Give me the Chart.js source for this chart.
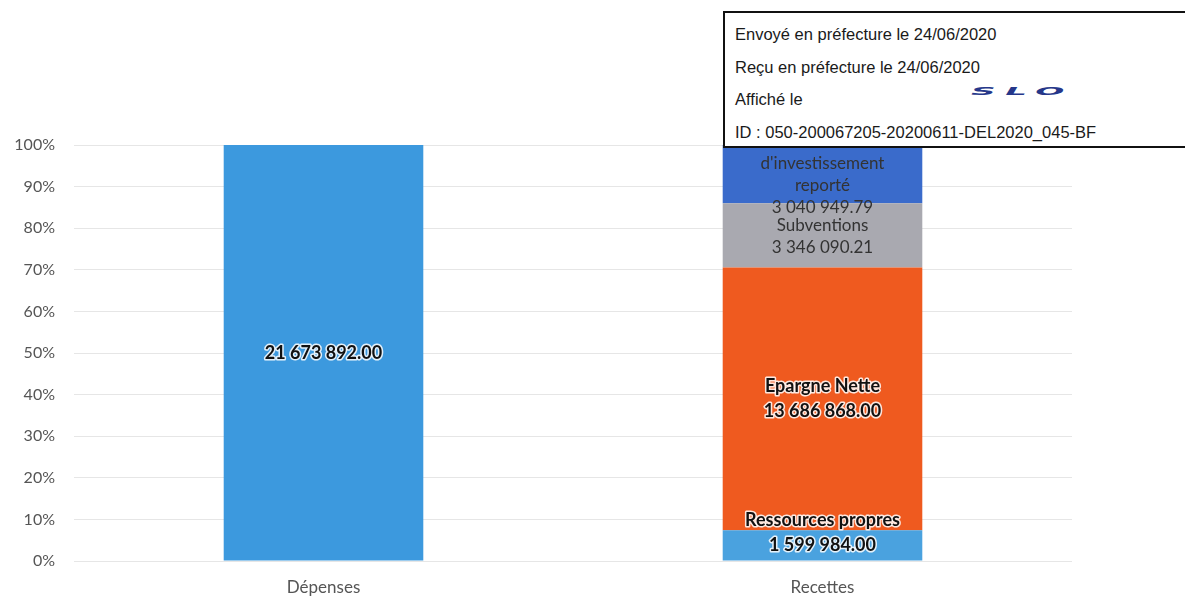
<!DOCTYPE html>
<html lang="fr">
<head>
<meta charset="utf-8">
<title>Dépenses / Recettes</title>
<script src="https://cdn.jsdelivr.net/npm/chart.js@4.4.1/dist/chart.umd.min.js"></script>
<style>
  body { margin: 0; background: #fff; }
  #wrap { position: relative; width: 1185px; height: 598px; overflow: hidden; }
  #stamp {
    position: absolute; left: 723px; top: 11px; width: 480px; height: 133px;
    border: 2px solid #111; background: #fff;
    font-family: "Liberation Sans", Arial, sans-serif; font-size: 16.5px; color: #1a1a1a;
  }
  #stamp .ln { position: absolute; left: 10px; white-space: nowrap; }
  #stamp .slo {
    position: absolute; left: 246px; top: 68px; display: inline-block; white-space: nowrap;
    font-family: "DejaVu Sans", sans-serif; font-weight: bold; font-style: italic;
    font-size: 18px; color: #26378a; letter-spacing: 5px;
    transform: scale(1.9, 0.55); transform-origin: left center;
  }
</style>
</head>
<body>
<div id="wrap">
  <canvas id="chart" width="1185" height="598"></canvas>
  <div id="stamp">
    <div class="ln" style="top:12px">Envoyé en préfecture le 24/06/2020</div>
    <div class="ln" style="top:45px">Reçu en préfecture le 24/06/2020</div>
    <div class="ln" style="top:77px">Affiché le</div>
    <span class="slo">SLO</span>
    <div class="ln" style="top:110px">ID : 050-200067205-20200611-DEL2020_045-BF</div>
  </div>
</div>
<script>
// chart data
const categories = ['Dépenses', 'Recettes'];
const depenses = [21673892.00, null];
const ressourcesPropres = [null, 1599984.00];
const epargneNette = [null, 13686868.00];
const subventions = [null, 3346090.21];
const resultatReporte = [null, 3040949.79];
const yTickStep = 10; // 0% .. 100%

// series in stacking order (bottom to top)
const series = [
  { name: 'Dépenses', values: depenses, color: '#3c99de', lines: [], bold: true },
  { name: 'Ressources propres', values: ressourcesPropres, color: '#4aa2df', lines: ['Ressources propres'], bold: true, shift: -13 },
  { name: 'Epargne Nette', values: epargneNette, color: '#ef5a1f', lines: ['Epargne Nette'], bold: true },
  { name: 'Subventions', values: subventions, color: '#a9a9b0', lines: ['Subventions'], bold: false, shift: 1 },
  { name: "Résultat d'investissement reporté", values: resultatReporte, color: '#3a6bcb', lines: ['Résultat', "d'investissement", 'reporté'], bold: false, shift: 0 }
];

// totals per category -> 100% stacked
const totals = categories.map((c, i) => series.reduce((s, d) => s + (d.values[i] || 0), 0));

function fmt(n) {
  const parts = n.toFixed(2).split('.');
  return parts[0].replace(/\B(?=(\d{3})+(?!\d))/g, ' ') + '.' + parts[1];
}

// draw labels in the middle of each segment
const segmentLabels = {
  id: 'segmentLabels',
  afterDatasetsDraw(chart) {
    const ctx = chart.ctx;
    chart.data.datasets.forEach((ds, di) => {
      const s = series[di];
      const meta = chart.getDatasetMeta(di);
      meta.data.forEach((bar, i) => {
        if (s.values[i] == null) return;
        const lines = s.lines.concat([fmt(s.values[i])]);
        const lh = s.bold ? 25 : 22;
        const cy = (bar.y + bar.base) / 2 + (s.shift || 0);
        ctx.save();
        ctx.font = s.bold ? 'bold 18px Lato, "Open Sans", sans-serif' : '17px Lato, "Open Sans", sans-serif';
        ctx.textAlign = 'center';
        ctx.textBaseline = 'middle';
        lines.forEach((t, k) => {
          const y = cy + (k - (lines.length - 1) / 2) * lh;
          if (s.bold) {
            ctx.lineWidth = 3;
            ctx.strokeStyle = 'rgba(255,255,255,0.85)';
            ctx.lineJoin = 'round';
            ctx.strokeText(t, bar.x, y);
            ctx.fillStyle = '#111';
          } else {
            ctx.fillStyle = '#333';
          }
          ctx.fillText(t, bar.x, y);
        });
        ctx.restore();
      });
    });
  }
};

new Chart(document.getElementById('chart'), {
  type: 'bar',
  data: {
    labels: categories,
    datasets: series.map(s => ({
      label: s.name,
      data: s.values.map((v, i) => v == null ? null : v / totals[i] * 100),
      backgroundColor: s.color,
      borderWidth: 0,
      barPercentage: 0.4,
      categoryPercentage: 1,
      stack: 'total'
    }))
  },
  options: {
    responsive: false,
    animation: false,
    layout: { padding: { top: 145, right: 113, left: 0, bottom: 0 } },
    plugins: { legend: { display: false }, tooltip: { enabled: false } },
    scales: {
      x: {
        stacked: true,
        grid: { display: false, drawTicks: false },
        border: { display: false },
        ticks: { color: '#555', font: { family: 'Lato', size: 17 }, padding: 16 },
        afterFit(scale) { scale.height = 37; }
      },
      y: {
        stacked: true,
        min: 0,
        max: 100,
        grid: { color: '#e6e6e6', drawTicks: false },
        border: { display: false },
        ticks: {
          stepSize: yTickStep,
          color: '#555',
          font: { family: 'Lato', size: 16 },
          padding: 19,
          callback: v => v + '%'
        },
        afterFit(scale) { scale.width = 74; }
      }
    }
  },
  plugins: [segmentLabels]
});
</script>
</body>
</html>
